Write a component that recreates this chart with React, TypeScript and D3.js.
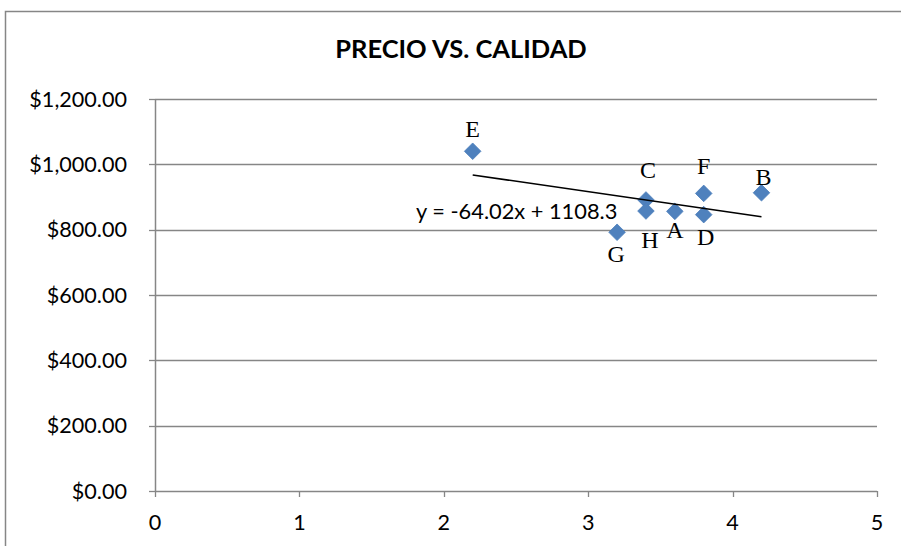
import React from "react";
import * as d3 from "d3";

const W = 901;
const H = 546;

const names = ["A", "B", "C", "D", "E", "F", "G", "H"];
const calidad = [3.6, 4.2, 3.4, 3.8, 2.2, 3.8, 3.2, 3.4];
const precio = [856, 913, 891, 846, 1040, 911, 792, 857];
const xTicks = [0, 1, 2, 3, 4, 5];
const yTicks = [0, 200, 400, 600, 800, 1000, 1200];
const trendSlope = -64.02;
const trendIntercept = 1108.3;
const title = "PRECIO VS. CALIDAD";
const equation = "y = -64.02x + 1108.3";

// label placement (pixel offsets from marker)
const labelOffset: Record<string, [number, number]> = {
  A: [0, 27],
  B: [2, -8],
  C: [2, -22],
  D: [2, 30],
  E: [0, -14],
  F: [0, -19],
  G: [-1, 30],
  H: [4, 37],
};

const sans = "Lato, 'Open Sans', sans-serif";

export default function App() {
  const x = d3.scaleLinear().domain([0, 5]).range([155, 877]);
  const y = d3.scaleLinear().domain([0, 1200]).range([491, 99]);
  const fmt = (v: number) => "$" + d3.format(",.2f")(v);
  const tx = d3.extent(calidad) as [number, number];
  const line = d3
    .line<number>()
    .x((d) => x(d))
    .y((d) => y(trendSlope * d + trendIntercept));
  const diamond = d3.symbol().type(d3.symbolDiamond2).size(175)();

  return (
    <svg
      width={W}
      height={H}
      style={{ position: "absolute", left: 0, top: 0, background: "#fff" }}
    >
      <rect x={0} y={0} width={W} height={H} fill="#fff" />
      <rect x={5.5} y={11.5} width={900} height={560} fill="none" stroke="#868686" strokeWidth={1.5} />
      <text
        x={461}
        y={58}
        textAnchor="middle"
        fontFamily={sans}
        fontWeight={700}
        fontSize={25.5}
        fill="#000"
      >
        {title}
      </text>
      {yTicks.map((t) => (
        <g key={"y" + t}>
          {t > 0 && (
            <line x1={155} x2={877} y1={Math.round(y(t)) + 0.5} y2={Math.round(y(t)) + 0.5} stroke="#868686" strokeWidth={1.3} />
          )}
          <line x1={149} x2={155} y1={Math.round(y(t)) + 0.5} y2={Math.round(y(t)) + 0.5} stroke="#868686" strokeWidth={1.3} />
          <text x={127} y={y(t) + 7.5} textAnchor="end" fontFamily={sans} fontSize={21.6} fill="#000">
            {fmt(t)}
          </text>
        </g>
      ))}
      <line x1={155.5} x2={155.5} y1={99} y2={491} stroke="#868686" strokeWidth={1.5} />
      <line x1={155} x2={877} y1={491.5} y2={491.5} stroke="#868686" strokeWidth={1.5} />
      {xTicks.map((t) => (
        <g key={"x" + t}>
          <line x1={Math.round(x(t)) + 0.5} x2={Math.round(x(t)) + 0.5} y1={491} y2={497} stroke="#868686" strokeWidth={1.3} />
          <text x={x(t)} y={530} textAnchor="middle" fontFamily={sans} fontSize={21.6} fill="#000">
            {t}
          </text>
        </g>
      ))}
      {calidad.map((c, i) => (
        <path
          key={"p" + i}
          d={diamond as string}
          transform={`translate(${x(c)},${y(precio[i])})`}
          fill="#4F81BD"
          stroke="#4A7EBB"
          strokeWidth={0.8}
        />
      ))}
      <path d={line([tx[0], tx[1]]) as string} fill="none" stroke="#000" strokeWidth={1.5} />
      <text x={416} y={218.5} fontFamily={sans} fontSize={21.8} fill="#000">
        {equation}
      </text>
      {calidad.map((c, i) => {
        const [dx, dy] = labelOffset[names[i]];
        return (
          <text
            key={"l" + i}
            x={x(c) + dx}
            y={y(precio[i]) + dy}
            textAnchor="middle"
            fontFamily="'Liberation Serif', 'Times New Roman', serif"
            fontSize={24}
            fill="#000"
          >
            {names[i]}
          </text>
        );
      })}
    </svg>
  );
}
